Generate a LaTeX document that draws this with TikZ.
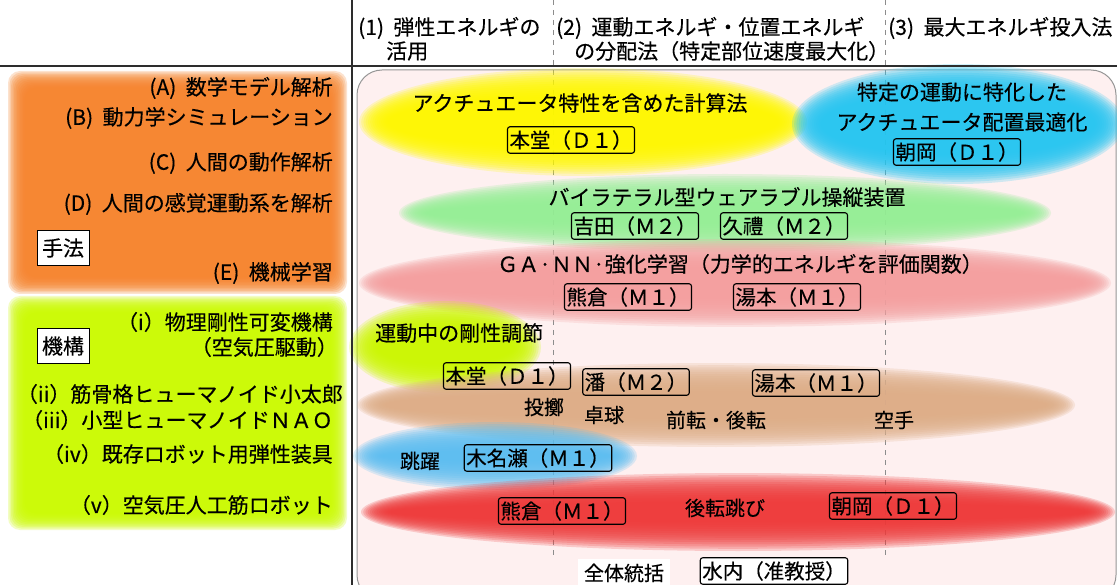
\documentclass[tikz,border=0pt]{standalone}
\usepackage{fontspec}
\setmainfont{Noto Sans CJK JP}[FakeBold=0.3]
\definecolor{bgpink}{RGB}{254,240,240}
\definecolor{rimgray}{RGB}{150,150,150}
\definecolor{rulegray}{RGB}{45,45,45}
\definecolor{dashgray}{RGB}{140,140,140}
\definecolor{cOrange}{RGB}{246,132,44}
\definecolor{cLime}{RGB}{204,250,0}
\definecolor{cYellow}{RGB}{255,250,0}
\definecolor{cCyan}{RGB}{38,198,240}
\definecolor{cGreen}{RGB}{150,238,150}
\definecolor{cPink}{RGB}{244,160,160}
\definecolor{cTan}{RGB}{222,174,136}
\definecolor{cBlue}{RGB}{92,190,240}
\definecolor{cRed}{RGB}{238,58,58}

% soft (blurred) ellipse: cx, cy, rx, ry, colour
\newcommand{\blob}[5]{%
  \foreach \k in {0,...,13}{%
    \pgfmathsetmacro{\rxx}{#3+4-2.2*\k}%
    \pgfmathsetmacro{\ryy}{#4+4-2.2*\k}%
    \fill[#5, fill opacity=0.21] (#1,#2) ellipse [x radius=\rxx pt, y radius=\ryy pt];
  }%
}
% soft (blurred) rectangle: x1, y1, x2, y2, colour
\newcommand{\blobrect}[5]{%
  \foreach \k in {0,...,11}{%
    \pgfmathsetmacro{\dd}{1.5*\k}%
    \fill[#5, fill opacity=0.23, rounded corners=12pt] ({#1+\dd},{#2+\dd}) rectangle ({#3-\dd},{#4-\dd});
  }%
}

\begin{document}
\begin{tikzpicture}[x=1pt,y=-1pt,
  txt/.style={inner sep=0pt, font=\fontsize{21}{25}\selectfont},
  stxt/.style={inner sep=0pt, font=\fontsize{20}{24}\selectfont},
  namebox/.style={draw=black, line width=1.1pt, rounded corners=2.5pt, inner xsep=2pt, inner ysep=3.5pt, font=\fontsize{20.5}{24}\selectfont},
  tagbox/.style={draw=black, line width=1pt, fill=white, inner xsep=5pt, inner ysep=8pt, font=\fontsize{21}{25}\selectfont},
  colrule/.style={draw=dashgray, line width=0.8pt, dash pattern=on 5pt off 5pt},
  tablerule/.style={draw=rulegray, line width=1.6pt}]
\useasboundingbox (0,0) rectangle (1117,585);
\clip (0,0) rectangle (1117,585);
\fill[white] (0,0) rectangle (1117,585);

% left panels
\blobrect{8}{71}{347}{294}{cOrange}
\blobrect{8}{296}{347}{530}{cLime}

% main rounded area
\filldraw[fill=bgpink, draw=rimgray, line width=1pt, rounded corners=25pt] (357,70) rectangle (1116,600);

% column separators
\draw[colrule] (553,0) -- (553,556);
\draw[colrule] (885,0) -- (885,556);

% soft ellipses
\blob{583}{122}{220}{50}{cYellow}
\blob{958}{124}{162}{56}{cCyan}
\blob{725}{213}{322}{35}{cGreen}
\blob{735}{283}{372}{40}{cPink}
\blob{445}{347}{92}{42}{cLime}
\blob{716}{405}{355}{38}{cTan}
\blob{495}{456}{138}{30}{cBlue}
\blob{738}{512}{373}{35}{cRed}

% table rules
\draw[tablerule] (0,66) -- (1117,66);
\draw[tablerule] (352,0) -- (352,585);

% header
\node[txt, anchor=west] (h1a) at (358,28) {(1)\hspace{0.45em}弾性エネルギの};
\node[txt, anchor=west] (h1b) at (386,51) {活用};
\node[txt, anchor=west] (h2a) at (556,28) {(2)\hspace{0.45em}運動エネルギ・位置エネルギ};
\node[txt, anchor=west] (h2b) at (574,51) {の分配法（特定部位速度最大化）};
\node[txt, anchor=west] (h3) at (888,28) {(3)\hspace{0.45em}最大エネルギ投入法};

% left column: methods
\node[txt, anchor=east] (mA) at (333,88) {(A)\hspace{0.45em}数学モデル解析};
\node[txt, anchor=east] (mB) at (333,118) {(B)\hspace{0.45em}動力学シミュレーション};
\node[txt, anchor=east] (mC) at (333,163) {(C)\hspace{0.45em}人間の動作解析};
\node[txt, anchor=east] (mD) at (333,204) {(D)\hspace{0.45em}人間の感覚運動系を解析};
\node[txt, anchor=east] (mE) at (333,273) {(E)\hspace{0.45em}機械学習};
\node[tagbox] (shuho) at (63,248) {手法};

% left column: mechanisms
\node[txt, anchor=east] (k1a) at (333,322) {（i）物理剛性可変機構};
\node[txt, anchor=east] (k1b) at (338,347) {（空気圧駆動）};
\node[tagbox] (kiko) at (63,346) {機構};
\node[txt, anchor=east] (k2) at (343,394) {（ii）筋骨格ヒューマノイド小太郎};
\node[txt, anchor=east] (k3) at (333,420) {（iii）小型ヒューマノイドＮＡＯ};
\node[txt, anchor=east] (k4) at (333,454) {（iv）既存ロボット用弾性装具};
\node[txt, anchor=east] (k5) at (333,505) {（v）空気圧人工筋ロボット};

% right area
\node[txt] (t1) at (580,103) {アクチュエータ特性を含めた計算法};
\node[namebox] (b1) at (571,140) {本堂（Ｄ１）};
\node[txt] (t2a) at (962,92) {特定の運動に特化した};
\node[txt] (t2b) at (962,122) {アクチュエータ配置最適化};
\node[namebox] (b2) at (957,152) {朝岡（Ｄ１）};
\node[txt] (t3) at (727,197) {バイラテラル型ウェアラブル操縦装置};
\node[namebox] (b3) at (635,226) {吉田（Ｍ２）};
\node[namebox] (b4) at (784,226) {久禮（Ｍ２）};
\node[txt] (t4) at (740,264) {ＧＡ·ＮＮ·強化学習（力学的エネルギを評価関数）};
\node[namebox] (b5) at (628,297) {熊倉（Ｍ１）};
\node[namebox] (b6) at (797,297) {湯本（Ｍ１）};
\node[txt, anchor=west] (t5) at (375,333) {運動中の剛性調節};
\node[namebox] (b7) at (507,376) {本堂（Ｄ１）};
\node[namebox] (b8) at (636,382) {潘（Ｍ２）};
\node[namebox] (b9) at (816,383) {湯本（Ｍ１）};
\node[stxt] (s1) at (544,407) {投擲};
\node[stxt] (s2) at (604,415) {卓球};
\node[stxt] (s3) at (716,420) {前転・後転};
\node[stxt] (s4) at (894,420) {空手};
\node[stxt] (s5) at (420,461) {跳躍};
\node[namebox] (b10) at (538,458) {木名瀬（Ｍ１）};
\node[namebox] (b11) at (562,511) {熊倉（Ｍ１）};
\node[stxt] (s6) at (725,508) {後転跳び};
\node[namebox] (b12) at (893,506) {朝岡（Ｄ１）};
\node[stxt, fill=white, inner xsep=6pt, inner ysep=5pt] (s7) at (624,573) {全体統括};
\node[namebox, fill=white] (b13) at (774,571) {水内（准教授）};
\end{tikzpicture}
\end{document}
